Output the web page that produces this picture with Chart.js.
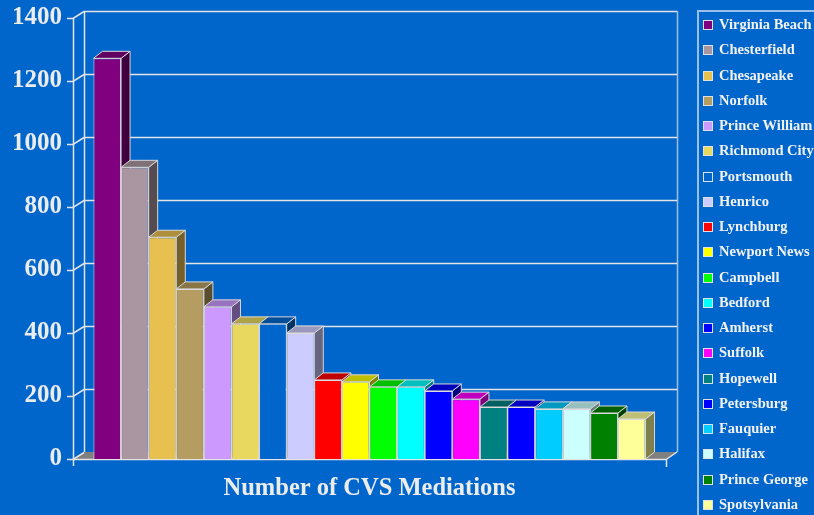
<!DOCTYPE html>
<html>
<head>
<meta charset="utf-8">
<script src="https://cdn.jsdelivr.net/npm/chart.js@4.4.1/dist/chart.umd.min.js"></script>
<style>
  html, body { margin: 0; padding: 0; background: #0066cc; overflow: hidden; }
  #wrap { position: relative; width: 814px; height: 515px; }
  #legend {
    position: absolute; left: 697px; top: 10px; width: 200px; height: 520px;
    border-left: 2px solid rgba(220,230,245,0.7); border-top: 2px solid rgba(220,230,245,0.7);
    font: bold 14.5px "Liberation Serif", "Times New Roman", serif; color: #f2f2f2;
  }
  #legend div { height: 25.26px; line-height: 25.26px; white-space: nowrap; }
  #legend span.box {
    display: inline-block; width: 8px; height: 8px; border: 1px solid #e0e0e0;
    margin: 0 6px 0 4px; vertical-align: -1px;
  }
</style>
</head>
<body>
<div id="wrap">
  <canvas id="myChart" width="814" height="515"></canvas>
  <div id="legend"></div>
</div>
<script>
// ---- data ----
var cities = ["Virginia Beach", "Chesterfield", "Chesapeake", "Norfolk", "Prince William",
  "Richmond City", "Portsmouth", "Henrico", "Lynchburg", "Newport News", "Campbell",
  "Bedford", "Amherst", "Suffolk", "Hopewell", "Petersburg", "Fauquier", "Halifax",
  "Prince George", "Spotsylvania"];
var mediations = [1272, 926, 704, 540, 483, 429, 429, 400, 251, 245, 229, 229, 216, 190,
  165, 165, 159, 159, 146, 127];
var barColors = ["#800080", "#aa96a0", "#e8c050", "#b59c60", "#cc99ff", "#e8d860", "#0066cc",
  "#ccccff", "#ff0000", "#ffff00", "#00ff00", "#00ffff", "#0000ff", "#ff00ff", "#008080",
  "#0000ff", "#00ccff", "#ccffff", "#008000", "#ffff99"];
var yTicks = [0, 200, 400, 600, 800, 1000, 1200, 1400];
var xTitle = "Number of CVS Mediations";

var depth = { dx: 9, dy: -7 };      // bar depth
var wallDepth = { dx: 11, dy: -7 }; // back wall offset
var lineCol = "#e4e4e4";

function shade(hex, f) {
  var n = parseInt(hex.slice(1), 16);
  var r = Math.round(((n >> 16) & 255) * f), g = Math.round(((n >> 8) & 255) * f), b = Math.round((n & 255) * f);
  return "rgb(" + r + "," + g + "," + b + ")";
}

function poly(ctx, pts, fill, stroke) {
  ctx.beginPath();
  ctx.moveTo(pts[0][0], pts[0][1]);
  for (var i = 1; i < pts.length; i++) ctx.lineTo(pts[i][0], pts[i][1]);
  ctx.closePath();
  if (fill) { ctx.fillStyle = fill; ctx.fill(); }
  if (stroke) { ctx.strokeStyle = stroke; ctx.lineWidth = 1; ctx.stroke(); }
}

// walls, floor, gridlines + bar tops/sides (fronts drawn by chart.js on top)
var threeD = {
  id: "threeD",
  beforeDatasetsDraw: function (chart) {
    var ctx = chart.ctx, a = chart.chartArea, ys = chart.scales.y;
    var wx = wallDepth.dx, wy = wallDepth.dy;
    ctx.save();
    // floor
    poly(ctx, [[a.left, a.bottom], [a.left + wx, a.bottom + wy], [a.right + wx, a.bottom + wy], [a.right, a.bottom]], "#808080", null);
    ctx.strokeStyle = lineCol;
    ctx.lineWidth = 1.5;
    yTicks.forEach(function (v) {
      var y = Math.round(ys.getPixelForValue(v)) + 0.5;
      ctx.beginPath();
      if (v > 0) {
        ctx.moveTo(a.left + wx, y + wy);
        ctx.lineTo(a.right + wx, y + wy);
      }
      ctx.moveTo(a.left - 6, y);
      ctx.lineTo(a.left, y);
      ctx.lineTo(a.left + wx, y + wy);
      ctx.stroke();
    });
    // back wall left edge, front axis
    ctx.beginPath();
    ctx.moveTo(a.left + wx + 0.5, a.top + wy);
    ctx.lineTo(a.left + wx + 0.5, a.bottom + wy);
    ctx.moveTo(a.left + 0.5, a.top);
    ctx.lineTo(a.left + 0.5, a.bottom + 7);
    ctx.moveTo(a.left, a.bottom + 0.5);
    ctx.lineTo(a.right, a.bottom + 0.5);
    ctx.lineTo(a.right + wx, a.bottom + wy);
    ctx.moveTo(a.right + 0.5, a.bottom);
    ctx.lineTo(a.right + 0.5, a.bottom + 8);
    ctx.stroke();
    ctx.strokeStyle = "rgba(220,230,245,0.7)";
    ctx.beginPath();
    ctx.moveTo(a.right + wx + 0.5, a.top + wy);
    ctx.lineTo(a.right + wx + 0.5, a.bottom + wy);
    ctx.stroke();

    var dx = depth.dx, dy = depth.dy;
    chart.data.datasets.forEach(function (ds, i) {
      var bar = chart.getDatasetMeta(i).data[0];
      var l = bar.x - bar.width / 2, r = bar.x + bar.width / 2, t = bar.y, b = bar.base;
      var col = barColors[i];
      poly(ctx, [[r, t], [r + dx, t + dy], [r + dx, b + dy], [r, b]], shade(col, 0.5), "#d8d8d8");
      poly(ctx, [[l, t], [l + dx, t + dy], [r + dx, t + dy], [r, t]], shade(col, 0.75), "#d8d8d8");
    });
    ctx.restore();
  }
};

var datasets = cities.map(function (c, i) {
  return {
    label: c,
    data: [mediations[i]],
    backgroundColor: barColors[i],
    borderColor: "#dcdcdc",
    borderWidth: 1
  };
});

var ctx = document.getElementById("myChart").getContext("2d");
var myChart = new Chart(ctx, {
  type: "bar",
  data: { labels: [""], datasets: datasets },
  options: {
    responsive: false,
    animation: false,
    devicePixelRatio: 1,
    layout: { padding: { top: 18, right: 148, left: 0, bottom: 0 } },
    categoryPercentage: 0.931,
    barPercentage: 1,
    plugins: { legend: { display: false }, tooltip: { enabled: false } },
    scales: {
      x: {
        grid: { display: false, drawTicks: false },
        border: { display: false },
        ticks: { display: false },
        title: {
          display: true, text: xTitle, color: "#ececec",
          font: { family: "'Liberation Serif', 'Times New Roman', serif", size: 24.5, weight: "bold" },
          padding: { top: 0, bottom: 12 }
        },
        afterFit: function (s) { s.height = 56; }
      },
      y: {
        min: 0, max: 1400,
        afterBuildTicks: function (s) { s.ticks = yTicks.map(function (v) { return { value: v }; }); },
        grid: { display: false, drawTicks: false },
        border: { display: false },
        ticks: {
          color: "#ececec", padding: 11,
          callback: function (v) { return String(v); },
          font: { family: "'Liberation Serif', 'Times New Roman', serif", size: 25, weight: "bold" }
        },
        afterFit: function (s) {
          s.width = 73;
          s.paddingTop = 0;
          s.paddingBottom = 0;
        }
      }
    }
  },
  plugins: [threeD]
});

// legend
var leg = document.getElementById("legend");
cities.forEach(function (c, i) {
  var row = document.createElement("div");
  row.innerHTML = '<span class="box" style="background:' + barColors[i] + '"></span>' + c;
  leg.appendChild(row);
});
</script>
</body>
</html>
